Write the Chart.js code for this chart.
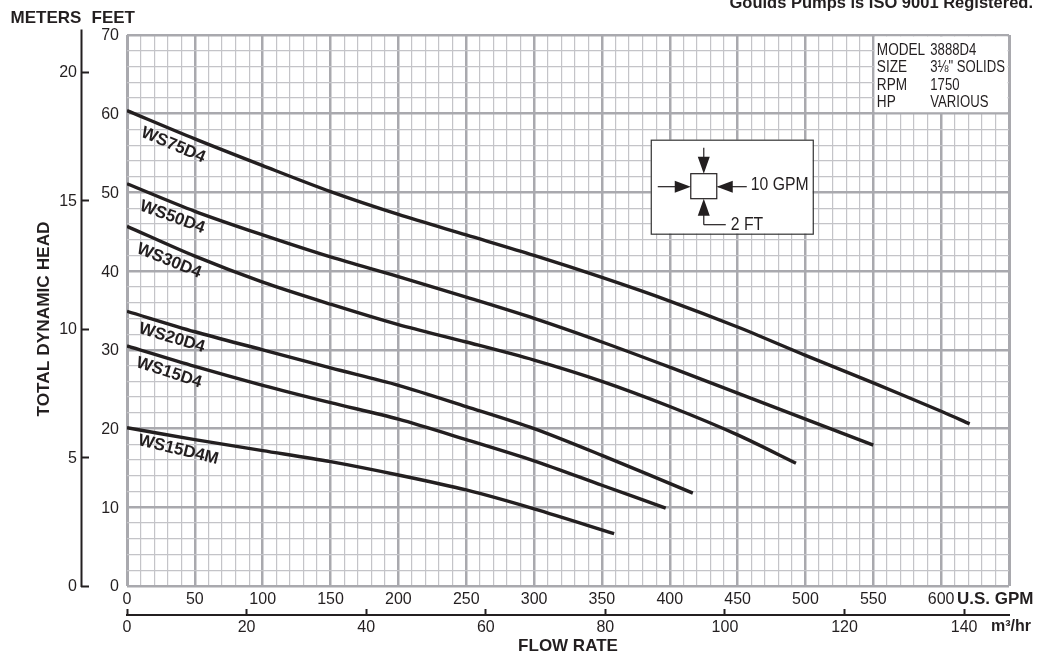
<!DOCTYPE html>
<html><head><meta charset="utf-8">
<style>html,body{margin:0;padding:0;background:#fff;overflow:hidden}canvas{display:block}</style>
<script src="https://cdn.jsdelivr.net/npm/chart.js@4"></script>
</head><body><canvas id="c" width="1047" height="653"></canvas>
<script>
const ws75Gpm=[0,50,100,150,200,250,300,350,400,450,500,550,600,621];
const ws75Head=[60.4,56.8,53.4,50.1,47.2,44.6,42.0,39.2,36.2,32.9,29.3,25.8,22.2,20.6];
const ws50Gpm=[0,50,100,150,200,250,300,350,400,450,500,550];
const ws50Head=[51.1,47.6,44.6,41.8,39.3,36.7,34.0,31.0,27.8,24.5,21.2,17.9];
const ws30Gpm=[0,50,100,150,200,250,300,350,400,450,493];
const ws30Head=[45.7,41.9,38.6,35.8,33.2,31.0,28.7,26.0,22.8,19.2,15.6];
const ws20Gpm=[0,50,100,150,200,250,300,350,417];
const ws20Head=[34.9,32.3,30.0,27.7,25.5,22.8,20.0,16.6,11.8];
const ws15Gpm=[0,50,100,150,200,250,300,350,397];
const ws15Head=[30.5,27.9,25.5,23.3,21.2,18.6,15.9,12.8,9.9];
const ws15mGpm=[0,50,100,150,200,250,300,359];
const ws15mHead=[20.1,18.6,17.2,15.8,14.1,12.2,9.8,6.65];
const curveNames=['WS75D4','WS50D4','WS30D4','WS20D4','WS15D4','WS15D4M'];
const labelGpm=[34,33.4,30.9,33,30.9,37.8];
const labelHead=[56.0,46.85,41.3,31.5,27.1,17.3];
const labelAngle=[23,20,22,16.6,18,13.7];
const modelKeys=['MODEL','SIZE','RPM','HP'];
const modelVals=['3888D4','3\u215B" SOLIDS','1750','VARIOUS'];

const INK='#231f20', MAJOR='#a9a9ae', MINOR='#c4c4c8', FONT='"Liberation Sans",Arial,sans-serif';
function xy(g,h){return g.map((x,i)=>({x,y:h[i]}));}
function ds(g,h,name){return {label:name,data:xy(g,h),borderColor:INK,borderWidth:3.4,pointRadius:0,fill:false,tension:0.3,borderCapStyle:'butt'};}

const decor={id:'decor',
 beforeDatasetsDraw(ch){
  const c=ch.ctx,X=ch.scales.x,Y=ch.scales.y;
  c.save();c.fillStyle='#fff';
  const x0=X.getPixelForValue(550)+1.5,y0=Y.getPixelForValue(70)+1.5;
  c.fillRect(x0,y0,X.getPixelForValue(650)-1.5-x0,Y.getPixelForValue(60)-1.5-y0);
  c.restore();
 },
 afterDatasetsDraw(ch){
  const c=ch.ctx,X=ch.scales.x,Y=ch.scales.y;
  c.save();
  c.fillStyle=INK;c.strokeStyle=INK;
  c.lineWidth=2;
  c.beginPath();c.moveTo(81.5,29.5);c.lineTo(81.5,Y.getPixelForValue(0)+1);c.stroke();
  c.beginPath();c.moveTo(X.left-1,615);c.lineTo(X.right+1,615);c.stroke();
  c.textBaseline='middle';c.textAlign='left';
  c.font='bold 17px '+FONT;
  c.fillText('METERS',10.5,18);c.fillText('FEET',91.5,18);
  c.fillText('U.S. GPM',957,599);
  c.font='bold 16px '+FONT;
  c.fillText('m\u00B3/hr',991,627);
  c.font='bold 16.5px '+FONT;c.textAlign='right';c.textBaseline='alphabetic';
  c.fillText('Goulds Pumps is ISO 9001 Registered.',1033,7.5);
  c.save();c.translate(44.5,319);c.rotate(-Math.PI/2);
  c.font='bold 17.3px '+FONT;c.textAlign='center';c.textBaseline='middle';
  c.fillText('TOTAL DYNAMIC HEAD',0,0);c.restore();
  curveNames.forEach((n,i)=>{
   c.save();c.translate(X.getPixelForValue(labelGpm[i]),Y.getPixelForValue(labelHead[i]));
   c.rotate(labelAngle[i]*Math.PI/180);
   c.font='bold 17px '+FONT;c.textAlign='center';c.textBaseline='middle';
   c.fillText(n,0,0);c.restore();
  });
  const bx=X.getPixelForValue(550),by=Y.getPixelForValue(70);
  c.font='16px '+FONT;c.textAlign='left';c.textBaseline='middle';
  modelKeys.forEach((k,i)=>{
   const yy=by+15.5+i*17.4;
   c.save();c.translate(bx+3.5,yy);c.scale(.85,1);c.fillText(k,0,0);c.restore();
   c.save();c.translate(bx+57,yy);c.scale(.82,1);c.fillText(modelVals[i],0,0);c.restore();
  });
  const ax=X.getPixelForValue(386),ay=Y.getPixelForValue(56.7);
  c.translate(ax,ay);
  c.fillStyle='#fff';c.fillRect(0,0,162,94);
  c.strokeStyle='#333';c.lineWidth=1.2;c.strokeRect(.5,.5,162,94);
  c.fillStyle=INK;c.strokeStyle=INK;
  c.strokeRect(40,34,26,25);
  const line=(a,b,d,e)=>{c.beginPath();c.moveTo(a,b);c.lineTo(d,e);c.stroke();};
  const tri=(a,b,d,e,f,g)=>{c.beginPath();c.moveTo(a,b);c.lineTo(d,e);c.lineTo(f,g);c.closePath();c.fill();};
  line(53,8,53,20);tri(53,34,47,17,59,17);
  line(7,47,25,47);tri(40,47,24,41,24,53);
  line(67,47,96,47);tri(66,47,82,41,82,53);
  line(53,70,53,85);line(53,85,75,85);tri(53,59,47,76,59,76);
  c.font='17.5px '+FONT;c.textBaseline='middle';c.textAlign='left';
  c.save();c.translate(100,45.5);c.scale(.9,1);c.fillText('10 GPM',0,0);c.restore();
  c.save();c.translate(80,85.5);c.scale(.9,1);c.fillText('2 FT',0,0);c.restore();
  c.restore();
 }};

new Chart(document.getElementById('c'),{
 type:'line',
 data:{datasets:[ds(ws75Gpm,ws75Head,'WS75D4'),ds(ws50Gpm,ws50Head,'WS50D4'),ds(ws30Gpm,ws30Head,'WS30D4'),ds(ws20Gpm,ws20Head,'WS20D4'),ds(ws15Gpm,ws15Head,'WS15D4'),ds(ws15mGpm,ws15mHead,'WS15D4M')]},
 plugins:[decor],
 options:{responsive:false,animation:false,devicePixelRatio:1,
  layout:{padding:{left:35,right:38,top:35,bottom:1}},
  plugins:{legend:{display:false},tooltip:{enabled:false}},
  scales:{
   x:{type:'linear',position:'bottom',min:0,max:650,weight:0,
      afterFit(s){s.height=23;},
      border:{display:false},
      grid:{drawTicks:false,color:c=>c.tick.value%50===0?MAJOR:MINOR,lineWidth:c=>(c.tick.value===0||c.tick.value===650)?3:c.tick.value%50===0?2.5:1.2},
      ticks:{stepSize:10,autoSkip:false,maxRotation:0,padding:4,color:INK,font:{family:FONT,size:16},callback:v=>(v%50===0&&v<=600)?String(v):''}},
   xQ:{type:'linear',position:'bottom',min:0,max:147.5,weight:1,
      afterFit(s){s.height=43;},
      border:{display:false},
      grid:{drawOnChartArea:false,drawTicks:true,tickLength:6,tickWidth:2,tickColor:INK},
      title:{display:true,text:'FLOW RATE',color:INK,font:{family:FONT,size:17,weight:'bold'},padding:{top:0,bottom:-5}},
      ticks:{stepSize:20,includeBounds:false,autoSkip:false,maxRotation:0,padding:3,color:INK,font:{family:FONT,size:16}}},
   y:{type:'linear',position:'left',min:0,max:70,weight:0,
      afterFit(s){s.width=38;},
      border:{display:false},
      grid:{drawTicks:false,color:c=>c.tick.value%10===0?MAJOR:MINOR,lineWidth:c=>c.tick.value%10===0?2.5:1.2},
      ticks:{stepSize:2,autoSkip:false,padding:8,labelOffset:1,color:INK,font:{family:FONT,size:16},callback:v=>v%10===0?String(v):''}},
   yM:{type:'linear',position:'left',min:0,max:21.44,weight:1,
      afterFit(s){s.width=54;},
      border:{display:false},
      grid:{drawOnChartArea:false,drawTicks:true,tickLength:8,tickWidth:2,tickColor:INK},
      ticks:{stepSize:5,includeBounds:false,autoSkip:false,padding:4,labelOffset:1,color:INK,font:{family:FONT,size:16}}}
  }}
});
</script></body></html>
